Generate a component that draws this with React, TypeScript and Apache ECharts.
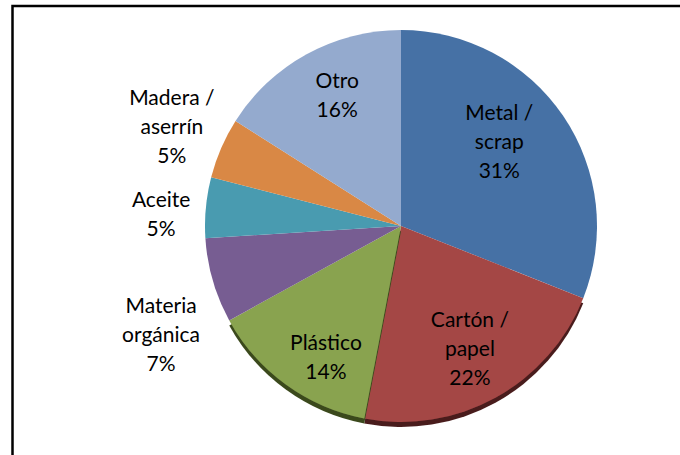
import React, { useEffect, useRef } from "react";
import * as echarts from "echarts";

const categories = ["Metal / scrap", "Cartón / papel", "Plástico", "Materia orgánica", "Aceite", "Madera / aserrín", "Otro"];
const labelTexts = ["Metal /\nscrap", "Cartón /\npapel", "Plástico", "Materia\norgánica", "Aceite", "Madera /\naserrín", "Otro"];
const values = [31, 22, 14, 7, 5, 5, 16];
const colors = ["#4671A5", "#A44645", "#89A34F", "#775D92", "#499BB0", "#D98845", "#94AACE"];
const edgeColors = ["", "#4a1c1c", "#3a4a1c", "", "", "", ""];
const insideLabels = [true, true, true, false, false, false, true];
// small label nudges to mimic the tilted (perspective) pie of the original
const nudgeX = [-20, 0, 9, 3, 12, 3, 5];
const nudgeY = [-5, -4, 14, 37, 11, 0, -7];

export default function App() {
  const ref = useRef<HTMLDivElement>(null);
  useEffect(() => {
    if (!ref.current) return;
    const chart = echarts.init(ref.current, null, { renderer: "svg" });
    const center = [401, 226];
    const labelStyle = {
      fontFamily: "Lato",
      fontSize: 21,
      lineHeight: 29,
      color: "#000",
      align: "center" as const,
    };
    const fmt = (p: any) => `${labelTexts[p.dataIndex]}\n${p.value}%`;
    const mainData = categories.map((name, i) => ({
      name,
      value: values[i],
      itemStyle: edgeColors[i]
        ? { color: colors[i], shadowColor: edgeColors[i], shadowOffsetY: 5, shadowBlur: 0 }
        : { color: colors[i] },
    }));
    const labelData = (inside: boolean) =>
      categories.map((name, i) => ({
        name,
        value: values[i],
        label: { show: insideLabels[i] === inside },
      }));
    const hidden = (radius: number, inside: boolean) => ({
      type: "pie",
      center,
      radius: [0, radius],
      startAngle: 90,
      clockwise: true,
      silent: true,
      z: 5,
      itemStyle: { color: "rgba(0,0,0,0)" },
      label: { position: "inside", formatter: fmt, ...labelStyle },
      labelLine: { show: false },
      labelLayout: (p: any) => ({ dx: nudgeX[p.dataIndex], dy: nudgeY[p.dataIndex] }),
      emphasis: { disabled: true },
      data: labelData(inside),
    });
    chart.setOption({
      animation: false,
      backgroundColor: "#fff",
      graphic: [
        {
          type: "rect",
          silent: true,
          shape: { x: 12.5, y: 6, width: 700, height: 500 },
          style: { fill: "none", stroke: "#000", lineWidth: 2.5 },
        },
      ],
      series: [
        {
          type: "pie",
          center,
          radius: 196,
          startAngle: 90,
          clockwise: true,
          silent: true,
          label: { show: false },
          labelLine: { show: false },
          emphasis: { disabled: true },
          data: mainData,
        },
        hidden(280, true),
        hidden(500, false),
      ],
    });
    return () => chart.dispose();
  }, []);
  return <div ref={ref} style={{ position: "fixed", left: 0, top: 0, width: 680, height: 455 }} />;
}
